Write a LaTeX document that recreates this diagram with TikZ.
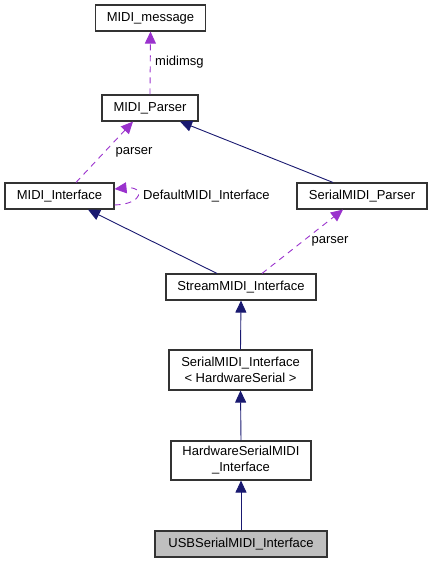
\documentclass[tikz,border=0pt]{standalone}
\usepackage{fontspec}
\setmainfont{Liberation Sans}
\usetikzlibrary{arrows.meta}
\definecolor{edgenavy}{HTML}{191970}
\definecolor{edgepurple}{HTML}{9A32CD}
\definecolor{nodegray}{HTML}{BFBFBF}
\begin{document}
\begin{tikzpicture}[x=1pt,y=-1pt,
  box/.style={draw=black!80,line width=1.1pt,fill=white,inner sep=0pt,minimum height=26pt,align=center,font=\fontsize{13}{16}\selectfont},
  inherit/.style={draw=edgenavy,line width=0.9pt,-{Triangle[length=12pt,width=11pt]}},
  usage/.style={draw=edgepurple,line width=0.9pt,dash pattern=on 6pt off 5pt,-{Triangle[length=12pt,width=11pt]}},
  lbl/.style={font=\fontsize{13}{16}\selectfont,inner sep=0pt}]
\useasboundingbox (0,0) rectangle (431,563);
\node[box,minimum width=110pt] (MM) at (150.5,18) {MIDI\_message};
\node[box,minimum width=96pt] (MP) at (150,108) {MIDI\_Parser};
\node[box,minimum width=109pt] (MI) at (59.5,196) {MIDI\_Interface};
\node[box,minimum width=130pt] (SP) at (362,196) {SerialMIDI\_Parser};
\node[box,minimum width=150pt] (SM) at (241,287) {StreamMIDI\_Interface};
\node[box,minimum width=143pt,minimum height=40pt] (SMI) at (240.5,370) {SerialMIDI\_Interface\\{<} HardwareSerial {>}};
\node[box,minimum width=140pt,minimum height=39pt] (HS) at (241,460.5) {HardwareSerialMIDI\\\_Interface};
\node[box,minimum width=172pt,fill=nodegray] (USB) at (241,544) {USBSerialMIDI\_Interface};

\draw[usage] (MP.north) -- (MM.south);
\node[lbl,anchor=west] (lmidimsg) at (155,62) {midimsg};
\draw[usage] ([xshift=16.5pt]MI.north) -- ([xshift=-17pt]MP.south);
\node[lbl] (lparser1) at (134,152) {parser};
\draw[inherit] ([xshift=-29pt]SP.north) -- ([xshift=30pt]MP.south);
\draw[usage] ([yshift=-9pt]MI.east) .. controls +(30,-1) and +(30,-3) .. ([yshift=7pt]MI.east);
\node[lbl,anchor=west] (ldefault) at (143,196) {DefaultMIDI\_Interface};
\draw[inherit] ([xshift=-24pt]SM.north) -- ([xshift=28.5pt]MI.south);
\draw[usage] ([xshift=21pt]SM.north) -- ([xshift=-19pt]SP.south);
\node[lbl] (lparser2) at (330,241) {parser};
\draw[inherit] (SMI.north) -- (SM.south);
\draw[inherit] (HS.north) -- (SMI.south);
\draw[inherit] (USB.north) -- (HS.south);
\end{tikzpicture}
\end{document}
